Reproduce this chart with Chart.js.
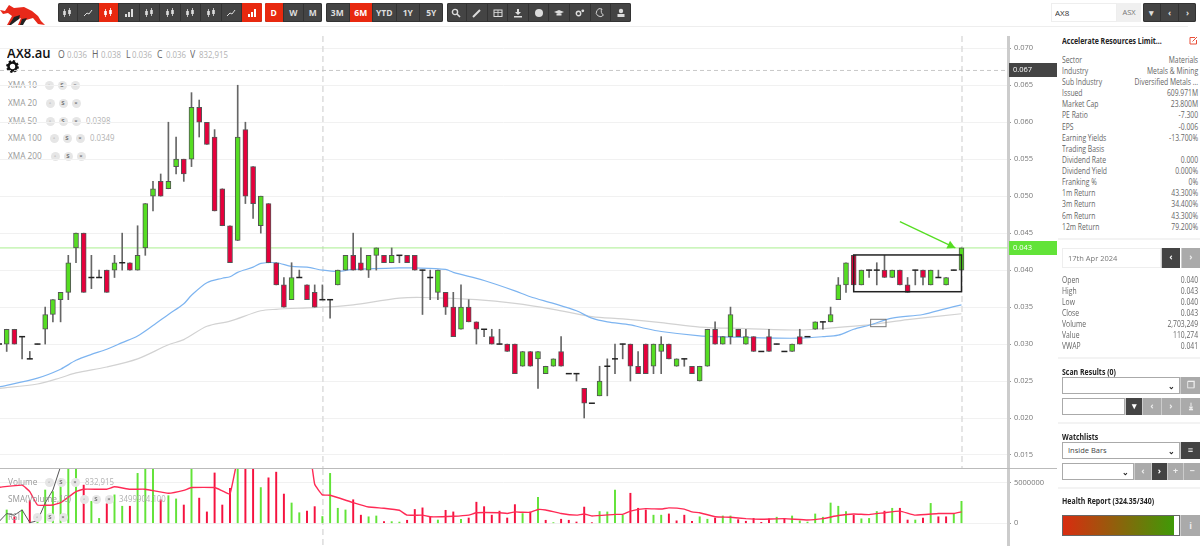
<!DOCTYPE html>
<html>
<head>
<meta charset="utf-8">
<title>AX8.au</title>
<script src="https://cdn.jsdelivr.net/npm/chart.js@4"></script>
<style>
    html, body { margin: 0; padding: 0; width: 1200px; height: 546px; overflow: hidden; background: #fff; font-family: "Open Sans", sans-serif; }
    canvas { position: absolute; left: 0; }
    #priceChart { top: 36px; }
    #volumeChart { top: 469px; }
    .abs { position: absolute; white-space: nowrap; line-height: 1; }
    .squeeze { transform: scaleX(.87); transform-origin: left center; }
    .topline { position: absolute; left: 0; top: 26px; width: 1188px; height: 1px; background: #eee; }
    .group { position: absolute; top: 3px; height: 19px; display: flex; background: #444; border-radius: 2px; box-shadow: inset 0 0 0 1px #333; overflow: hidden; }
    .group div { flex: 1; display: flex; align-items: center; justify-content: center; color: #ddd; font-size: 8.5px; font-weight: 700; border-left: 1px solid #333; }
    .group div:first-child { border-left: 0; }
    .group div.on { background: #e8290f; color: #fff; }
    .group svg { width: 10px; height: 10px; fill: #ddd; stroke: #ddd; }
    .group .on svg { fill: #fff; stroke: #fff; }
    .legend { color: #999; font-size: 9.5px; }
    .value { color: #b2b2b2; font-size: 9px; }
    .dot { position: absolute; width: 9px; height: 9px; border-radius: 50%; background: #e6e6e6; color: #777; font-size: 6px; font-weight: 700; text-align: center; line-height: 9px; }
    .row { position: absolute; left: 1062px; width: 164px; display: flex; justify-content: space-between; font-size: 8.2px; line-height: 11px; color: #666; white-space: nowrap; transform: scaleX(.83); transform-origin: left center; }
    .bold { color: #222; font-weight: 700; font-size: 8.2px; transform: scaleX(.85); transform-origin: left center; }
    .sep { position: absolute; left: 1058px; width: 142px; height: 2px; background: #f3f3f3; }
    .box { position: absolute; box-sizing: border-box; border: 1px solid #aaa; background: #fff; font-size: 7.5px; color: #444; line-height: 15px; padding-left: 5px; }
    .btn { position: absolute; box-sizing: border-box; background: #aaa; color: #eee; font-size: 9px; font-weight: 700; text-align: center; line-height: 16px; border-left: 1px solid #ccc; }
    .btn.dark { background: #444; color: #fff; }
    .arrow { position: absolute; right: 4px; top: 0; color: #222; font-size: 8px; font-weight: 700; }
</style>
</head>
<body>
<div class="topline"></div>
<svg class="abs" style="left:0;top:2px" width="46" height="23" viewBox="0 0 46 23">
    <path d="M0 8 L5 9 L9 3 L14 6 L24 5 L32 9 L38 14 L41 19 L45 23 L38 22 L33 16 L26 18 L21 23 L18 23 L21 16 L16 18 L10 23 L7 23 L12 14 L8 11 L3 12 Z" fill="#e8291a"/>
    <path d="M14 15 L20 13 L19 17 L11 23 L9 23 Z" fill="#222"/>
    <path d="M22 17 L27 16 L23 23 L20 23 Z" fill="#222"/>
</svg>
<div id="toolbars"></div>

<div class="abs squeeze" style="left:7px;top:45px;font-size:15px;font-weight:600;color:#111">AX8.au</div>
<div id="ohlc"></div>
<svg class="abs" style="left:6px;top:60px" width="13" height="13" viewBox="0 0 13 13">
    <circle cx="6.5" cy="6.5" r="4" fill="none" stroke="#111" stroke-width="2.6"/>
    <circle cx="6.5" cy="6.5" r="5.4" fill="none" stroke="#111" stroke-width="2" stroke-dasharray="2.2 2"/>
</svg>
<div id="legends"></div>

<canvas id="priceChart" width="1060" height="432"></canvas>
<canvas id="volumeChart" width="1060" height="77"></canvas>
<div id="legendsTop"></div>

<div class="abs" style="left:0;top:468px;width:1057px;height:1px;background:#bbb"></div>

<input class="abs" value="AX8" style="left:1051px;top:3px;width:66px;height:19px;box-sizing:border-box;border:1px solid #eee;font:8px 'Open Sans';color:#333;padding-left:3px;outline:0">
<div class="abs" style="left:1117px;top:3px;width:24px;height:19px;background:#f0f0f0;color:#777;font-size:7.5px;line-height:19px;text-align:center">ASX</div>
<div class="group" style="left:1143px;width:53px"><div>▾</div><div>‹</div><div>›</div></div>

<div class="abs bold" style="left:1062px;top:37px">Accelerate Resources Limit...</div>
<svg class="abs" style="left:1189px;top:36px" width="9" height="9" viewBox="0 0 9 9" fill="none" stroke="#e8503a"><path d="M6 1.5 H1 V8 H7.5 V4"/><path d="M3.5 5.5 L8 1"/></svg>
<div id="infoRows"></div>
<div class="sep" style="top:238px"></div>

<div class="box" style="left:1062px;top:248px;width:99px;height:20px;line-height:18px;color:#777;border-color:#eee">17th Apr 2024</div>
<div class="btn dark" style="left:1161px;top:248px;width:19px;height:20px;line-height:18px">‹</div>
<div class="btn" style="left:1181px;top:248px;width:19px;height:20px;line-height:18px">›</div>
<div id="dayRows"></div>
<div class="sep" style="top:357px"></div>

<div class="abs bold" style="left:1062px;top:368px">Scan Results (0)</div>
<div class="box" style="left:1062px;top:377px;width:118px;height:17px"><span class="arrow">⌄</span></div>
<div class="btn" style="left:1180px;top:377px;width:20px;height:17px">❐</div>
<div class="box" style="left:1062px;top:398px;width:63px;height:17px"></div>
<div class="btn dark" style="left:1125px;top:398px;width:17px;height:17px">▾</div>
<div class="btn" style="left:1142px;top:398px;width:19px;height:17px">‹</div>
<div class="btn" style="left:1161px;top:398px;width:19px;height:17px">›</div>
<div class="btn" style="left:1180px;top:398px;width:20px;height:17px">⤓</div>
<div class="sep" style="top:422px"></div>

<div class="abs bold" style="left:1062px;top:433px">Watchlists</div>
<div class="box" style="left:1062px;top:442px;width:118px;height:17px">Inside Bars<span class="arrow">⌄</span></div>
<div class="btn dark" style="left:1180px;top:442px;width:20px;height:17px">≡</div>
<div class="box" style="left:1062px;top:463px;width:72px;height:17px"><span class="arrow">⌄</span></div>
<div class="btn" style="left:1134px;top:463px;width:17px;height:17px">‹</div>
<div class="btn dark" style="left:1151px;top:463px;width:16px;height:17px">›</div>
<div class="btn" style="left:1167px;top:463px;width:16px;height:17px">+</div>
<div class="btn" style="left:1183px;top:463px;width:17px;height:17px">−</div>
<div class="sep" style="top:487px"></div>

<div class="abs bold" style="left:1062px;top:497px">Health Report (324.35/340)</div>
<div class="abs" style="left:1062px;top:515px;width:118px;height:21px;box-sizing:border-box;border:1px solid #666;background:#fff">
    <div style="width:111px;height:100%;background:linear-gradient(90deg,#d92c10,#3f9a07)"></div>
</div>
<div class="btn" style="left:1180px;top:515px;width:20px;height:21px;line-height:21px">i</div>

<script>
// Candles, first one sits half off the left edge (candle number -1)
const opens = [
    0.030, 0.030, 0.032, 0.031, 0.028, 0.030, 0.032, 0.034, 0.036, 0.037,
    0.043, 0.045, 0.039, 0.039, 0.040, 0.040, 0.041, 0.041, 0.040, 0.043,
    0.050, 0.052, 0.051, 0.054, 0.055, 0.055, 0.062, 0.060, 0.058, 0.051,
    0.046, 0.044, 0.059, 0.054, 0.046, 0.049, 0.041, 0.038, 0.036, 0.039,
    0.038, 0.037, 0.036, 0.036, 0.038, 0.040, 0.042, 0.041, 0.040, 0.042,
    0.042, 0.041, 0.042, 0.042, 0.042, 0.040, 0.039, 0.037, 0.037, 0.035,
    0.032, 0.035, 0.033, 0.032, 0.031, 0.030, 0.030, 0.030, 0.027, 0.029,
    0.028, 0.026, 0.027, 0.029, 0.026, 0.026, 0.024, 0.022, 0.023, 0.027,
    0.028, 0.030, 0.030, 0.027, 0.030, 0.027, 0.029, 0.030, 0.027, 0.028,
    0.027, 0.025, 0.027, 0.032, 0.030, 0.031, 0.032, 0.030, 0.031, 0.029,
    0.031, 0.030, 0.029, 0.029, 0.031, 0.031, 0.032, 0.033, 0.033, 0.036,
    0.038, 0.042, 0.038, 0.040, 0.040, 0.040, 0.039, 0.040, 0.038, 0.040,
    0.040, 0.038, 0.039, 0.038, 0.040, 0.040
];
const highs = [
    0.030, 0.032, 0.032, 0.031, 0.029, 0.030, 0.035, 0.036, 0.037, 0.042,
    0.045, 0.045, 0.042, 0.040, 0.040, 0.042, 0.045, 0.041, 0.046, 0.049,
    0.052, 0.053, 0.060, 0.058, 0.055, 0.064, 0.063, 0.060, 0.059, 0.051,
    0.046, 0.065, 0.060, 0.054, 0.050, 0.049, 0.041, 0.039, 0.041, 0.040,
    0.038, 0.038, 0.038, 0.036, 0.040, 0.042, 0.045, 0.043, 0.042, 0.043,
    0.042, 0.043, 0.042, 0.042, 0.042, 0.040, 0.040, 0.040, 0.037, 0.037,
    0.038, 0.036, 0.033, 0.032, 0.032, 0.032, 0.030, 0.030, 0.029, 0.029,
    0.029, 0.027, 0.028, 0.031, 0.026, 0.026, 0.024, 0.022, 0.027, 0.028,
    0.030, 0.030, 0.030, 0.029, 0.030, 0.030, 0.031, 0.030, 0.028, 0.028,
    0.027, 0.027, 0.032, 0.033, 0.031, 0.035, 0.032, 0.032, 0.031, 0.029,
    0.032, 0.030, 0.029, 0.030, 0.032, 0.031, 0.033, 0.033, 0.035, 0.039,
    0.041, 0.042, 0.040, 0.040, 0.041, 0.042, 0.040, 0.040, 0.039, 0.040,
    0.040, 0.040, 0.040, 0.039, 0.040, 0.043
];
const lows = [
    0.0295, 0.029, 0.030, 0.028, 0.028, 0.030, 0.030, 0.033, 0.033, 0.036,
    0.041, 0.037, 0.0375, 0.039, 0.037, 0.039, 0.040, 0.040, 0.040, 0.042,
    0.048, 0.050, 0.051, 0.053, 0.052, 0.054, 0.058, 0.057, 0.048, 0.046,
    0.041, 0.044, 0.049, 0.047, 0.045, 0.041, 0.038, 0.035, 0.036, 0.039,
    0.036, 0.035, 0.036, 0.0335, 0.038, 0.040, 0.040, 0.040, 0.039, 0.040,
    0.041, 0.041, 0.041, 0.041, 0.040, 0.034, 0.036, 0.036, 0.034, 0.031,
    0.032, 0.033, 0.030, 0.031, 0.030, 0.030, 0.029, 0.026, 0.027, 0.027,
    0.024, 0.026, 0.027, 0.027, 0.026, 0.025, 0.020, 0.022, 0.023, 0.023,
    0.026, 0.028, 0.025, 0.026, 0.026, 0.026, 0.026, 0.028, 0.027, 0.027,
    0.026, 0.025, 0.027, 0.030, 0.030, 0.030, 0.031, 0.030, 0.029, 0.029,
    0.029, 0.030, 0.029, 0.029, 0.030, 0.031, 0.032, 0.032, 0.033, 0.036,
    0.037, 0.038, 0.038, 0.039, 0.038, 0.039, 0.039, 0.038, 0.037, 0.038,
    0.038, 0.038, 0.039, 0.038, 0.040, 0.040
];
const closes = [
    0.030, 0.032, 0.030, 0.031, 0.028, 0.030, 0.034, 0.036, 0.037, 0.041,
    0.045, 0.037, 0.039, 0.039, 0.037, 0.041, 0.041, 0.040, 0.042, 0.049,
    0.051, 0.050, 0.052, 0.055, 0.053, 0.062, 0.060, 0.057, 0.048, 0.046,
    0.041, 0.058, 0.050, 0.049, 0.050, 0.041, 0.038, 0.035, 0.039, 0.039,
    0.036, 0.035, 0.036, 0.036, 0.040, 0.042, 0.040, 0.040, 0.042, 0.043,
    0.041, 0.042, 0.042, 0.041, 0.040, 0.040, 0.039, 0.040, 0.035, 0.031,
    0.035, 0.033, 0.032, 0.032, 0.030, 0.030, 0.029, 0.026, 0.029, 0.027,
    0.029, 0.027, 0.028, 0.027, 0.026, 0.026, 0.022, 0.022, 0.025, 0.027,
    0.028, 0.030, 0.027, 0.026, 0.026, 0.030, 0.030, 0.028, 0.028, 0.028,
    0.026, 0.027, 0.032, 0.030, 0.031, 0.034, 0.031, 0.031, 0.029, 0.029,
    0.029, 0.030, 0.029, 0.030, 0.030, 0.031, 0.033, 0.033, 0.034, 0.038,
    0.041, 0.038, 0.040, 0.040, 0.040, 0.039, 0.040, 0.038, 0.037, 0.040,
    0.039, 0.040, 0.039, 0.039, 0.040, 0.043
];

// Volume per candle, starts at candle number 0
const volumes = [
    1640000, 800000, 1640000, 2800000, 800000, 4100000, 3900000, 5500000, 8000000, 8000000,
    4700000, 2700000, 600000, 2400000, 3500000, 2100000, 2100000, 6150000, 8000000, 8000000,
    2900000, 3400000, 3000000, 2250000, 8000000, 3100000, 1400000, 6200000, 2250000, 4300000,
    8000000, 8000000, 8000000, 4400000, 5600000, 6300000, 3600000, 2500000, 1300000, 1500000,
    2050000, 832915, 6150000, 1850000, 1640000, 2900000, 1000000, 800000, 900000, 200000,
    200000, 150000, 370000, 1700000, 1900000, 800000, 400000, 1600000, 1400000, 500000,
    650000, 2600000, 2050000, 1000000, 1500000, 650000, 2300000, 1200000, 1400000, 3200000,
    370000, 80000, 500000, 370000, 160000, 2000000, 80000, 1450000, 1400000, 4100000,
    1000000, 3700000, 1850000, 1650000, 1000000, 1000000, 1150000, 300000, 1000000, 250000,
    800000, 500000, 650000, 900000, 900000, 450000, 250000, 600000, 120000, 550000,
    750000, 600000, 900000, 300000, 150000, 1150000, 750000, 2500000, 2100000, 1450000,
    1000000, 550000, 600000, 1450000, 1500000, 1850000, 1850000, 400000, 400000, 650000,
    2450000, 800000, 800000, 1200000, 2703249
];
const volumeSides = [
    'g','r','g','r','g','g','g','g','g','g',
    'r','g','g','r','g','g','r','g','g','g',
    'r','g','g','r','g','r','r','r','r','r',
    'g','r','r','g','r','r','r','g','g','r',
    'r','g','g','g','g','r','r','g','g','r',
    'g','g','r','r','r','r','g','r','r','g',
    'r','r','r','r','r','r','r','g','r','g',
    'r','g','r','r','r','r','r','g','g','g',
    'g','r','r','r','g','g','r','r','r','r',
    'g','g','r','g','g','r','r','r','r','r',
    'g','r','g','g','g','g','g','g','g','g',
    'r','g','g','g','r','g','r','r','g','r',
    'g','r','r','g','g'
];

// Moving averages at these candle numbers
const xma50Index = [-1, 4, 7, 9, 11, 13, 15, 17, 19, 21, 23, 24, 26, 28, 29, 30, 32, 33, 35, 37, 39, 41, 43, 45, 51, 53, 57, 58, 62, 66, 68, 71, 74, 76, 78, 81, 83, 85, 90, 92, 96, 100, 103, 106, 108, 110, 112, 115, 119, 122, 124];
const xma50 = [0.0242, 0.0254, 0.0266, 0.0278, 0.0286, 0.0293, 0.0302, 0.0311, 0.0325, 0.0340, 0.03545, 0.0366, 0.0383, 0.0389, 0.0391, 0.0397, 0.0404, 0.0409, 0.0410, 0.0405, 0.0404, 0.0400, 0.0398, 0.0401, 0.0403, 0.0403, 0.0401, 0.0397, 0.0386, 0.0372, 0.0364, 0.0355, 0.0345, 0.0335, 0.0330, 0.0326, 0.0321, 0.0317, 0.0311, 0.0310, 0.0309, 0.0308, 0.0308, 0.0310, 0.0312, 0.0320, 0.03255, 0.0335, 0.0340, 0.0348, 0.0353];
const xma100Index = [-1, 4, 7, 9, 13, 17, 21, 23, 26, 29, 33, 35, 39, 43, 45, 51, 54, 61, 66, 71, 76, 80, 85, 90, 96, 103, 106, 112, 117, 124];
const xma100 = [0.0240, 0.0246, 0.02545, 0.0261, 0.0269, 0.0280, 0.0299, 0.0306, 0.0324, 0.0331, 0.0345, 0.0347, 0.0349, 0.0351, 0.0353, 0.0362, 0.0363, 0.0360, 0.0355, 0.0347, 0.0337, 0.0334, 0.0329, 0.0323, 0.0321, 0.0319, 0.0321, 0.0326, 0.0333, 0.0341];

// Volume average, goes off the panel in the middle of the tall bars
const smaIndex = [-1, 2, 3, 4, 6, 7, 9, 10, 13, 14, 16, 18, 21, 23, 24, 27, 28, 29, 30, 31, 39, 40, 41, 42, 45, 47, 49, 51, 52, 54, 55, 58, 60, 61, 64, 65, 66, 67, 68, 69, 70, 72, 74, 75, 76, 79, 80, 81, 83, 85, 86, 88, 89, 90, 92, 94, 96, 98, 101, 104, 106, 108, 110, 112, 114, 116, 118, 121, 123, 124];
const smaVolume = [4430000, 4700000, 3900000, 2250000, 2250000, 2540000, 3900000, 4200000, 4200000, 4500000, 4200000, 4200000, 3700000, 4050000, 4400000, 4400000, 4000000, 3600000, 8000000, 10000000, 10000000, 4800000, 3499904, 3450000, 2540000, 2000000, 1850000, 1600000, 1000000, 1000000, 800000, 860000, 1000000, 1300000, 1300000, 1200000, 1400000, 1350000, 1350000, 1700000, 1640000, 1200000, 1000000, 1150000, 900000, 1100000, 1100000, 1500000, 1800000, 1750000, 1900000, 1750000, 1400000, 1300000, 800000, 740000, 570000, 500000, 570000, 400000, 570000, 950000, 1150000, 1070000, 1300000, 1500000, 1000000, 1200000, 1200000, 1400000];

// Third indicator line, only shows at the far left of the lower panel
const rsiIndex = [-1, 0, 1, 2, 3, 4, 5, 6, 7];
const rsiLine = [200000, 1200000, 1000000, 1640000, 80000, 300000, 2500000, 4100000, 7000000];

// Axis ticks
const priceTicks = [0.015, 0.020, 0.025, 0.030, 0.035, 0.040, 0.045, 0.050, 0.055, 0.060, 0.065, 0.070];
const volumeTicks = [0, 5000000];

// Lines the user drew on the chart: candle numbers and prices
const lastClose = 0.043;
const crossPrice = 0.067;
const crossCandle = 41;
const lastCandle = 124;
const bigBox = [110, 0.04205, 124, 0.03708];
const smallBox = [112.2, 0.03335, 114.2, 0.03235];
const arrowLine = [116, 0.04655, 123.2, 0.0430];

const GREEN = '#55dd22';
const RED = '#e6003c';
const xMin = -0.87;
const xMax = 130.04;

const candleNumbers = opens.map((_, i) => i - 1);
const pair = (xs, ys) => xs.map((x, i) => ({ x: x, y: ys[i] }));

const xScale = {
    type: 'linear', min: xMin, max: xMax, offset: false, display: false,
    grid: { display: false }
};

function yScale(min, max, ticks, format) {
    return {
        position: 'right',
        min: min,
        max: max,
        afterFit: s => {
            s.width = 52;
            // no room needed for half a label at the panel edges
            s.paddingTop = 0;
            s.paddingBottom = 0;
        },
        afterBuildTicks: s => { s.ticks = ticks.map(v => ({ value: v })); },
        border: { color: '#ccc', width: 3 },
        grid: { color: '#f1f1f1', tickColor: '#999', tickLength: 3 },
        ticks: { color: '#777', padding: 3, font: { family: 'Open Sans', size: 7.5 }, callback: format }
    };
}

// Dashed crosshairs behind both panels
const crosshairPlugin = {
    id: 'crosshairs',
    beforeDatasetsDraw(chart) {
        const { ctx, chartArea, scales } = chart;
        ctx.save();
        ctx.strokeStyle = '#dfdfdf';
        ctx.lineWidth = 1.6;
        ctx.setLineDash([6, 4]);
        [crossCandle, lastCandle].forEach((c, i) => {
            if (i === 1 && chart.canvas.id !== 'priceChart') return;
            const x = scales.x.getPixelForValue(c) + 0.5;
            ctx.beginPath();
            ctx.moveTo(x, chartArea.top);
            ctx.lineTo(x, chartArea.bottom);
            ctx.stroke();
        });
        ctx.restore();
    }
};

// Horizontal price lines, the two price tags and the hand drawn boxes
const drawingsPlugin = {
    id: 'drawings',
    beforeDatasetsDraw(chart) {
        const { ctx, chartArea, scales } = chart;
        ctx.save();
        ctx.strokeStyle = '#c8c8c8';
        ctx.setLineDash([4, 3]);
        let y = scales.y.getPixelForValue(crossPrice);
        ctx.beginPath();
        ctx.moveTo(chartArea.left, y);
        ctx.lineTo(chartArea.right, y);
        ctx.stroke();
        ctx.setLineDash([]);
        ctx.strokeStyle = '#a9ef8f';
        y = scales.y.getPixelForValue(lastClose);
        ctx.beginPath();
        ctx.moveTo(chartArea.left, y);
        ctx.lineTo(chartArea.right, y);
        ctx.stroke();
        ctx.restore();
    },
    afterDraw(chart) {
        const { ctx, scales } = chart;
        const sx = v => scales.x.getPixelForValue(v);
        const sy = v => scales.y.getPixelForValue(v);
        ctx.save();

        ctx.strokeStyle = '#222';
        ctx.lineWidth = 1.5;
        ctx.strokeRect(sx(bigBox[0]), sy(bigBox[1]), sx(bigBox[2]) - sx(bigBox[0]), sy(bigBox[3]) - sy(bigBox[1]));
        ctx.strokeStyle = '#777';
        ctx.lineWidth = 1;
        ctx.strokeRect(sx(smallBox[0]), sy(smallBox[1]), sx(smallBox[2]) - sx(smallBox[0]), sy(smallBox[3]) - sy(smallBox[1]));

        // Arrow
        const x1 = sx(arrowLine[0]), y1 = sy(arrowLine[1]), x2 = sx(arrowLine[2]), y2 = sy(arrowLine[3]);
        const a = Math.atan2(y2 - y1, x2 - x1);
        ctx.strokeStyle = GREEN;
        ctx.fillStyle = GREEN;
        ctx.lineWidth = 1.3;
        ctx.beginPath();
        ctx.moveTo(x1, y1);
        ctx.lineTo(x2, y2);
        ctx.stroke();
        ctx.beginPath();
        ctx.moveTo(x2, y2);
        ctx.lineTo(x2 - 9 * Math.cos(a - 0.5), y2 - 9 * Math.sin(a - 0.5));
        ctx.lineTo(x2 - 9 * Math.cos(a + 0.5), y2 - 9 * Math.sin(a + 0.5));
        ctx.fill();

        // Price tags on the axis
        ctx.font = '7.5px "Open Sans"';
        ctx.textBaseline = 'middle';
        [[crossPrice, '#444'], [lastClose, '#62e338']].forEach(t => {
            const y = Math.round(sy(t[0]));
            ctx.fillStyle = t[1];
            ctx.fillRect(1009, y - 7, 48, 14);
            ctx.fillStyle = '#fff';
            ctx.fillText(t[0].toFixed(3), 1013, y);
        });
        ctx.restore();
    }
};

const baseOptions = {
    responsive: false,
    animation: false,
    events: [],
    layout: { padding: 0, autoPadding: false },
    plugins: { legend: { display: false }, tooltip: { enabled: false } }
};

// Price panel
const priceChart = new Chart(document.getElementById('priceChart'), {
    data: {
        datasets: [
            {
                type: 'line', order: 6, data: pair(xma100Index, xma100),
                borderColor: '#d2d2d2', borderWidth: 1.2, pointRadius: 0, tension: 0.3
            },
            {
                type: 'line', order: 5, data: pair(xma50Index, xma50),
                borderColor: '#7db4f0', borderWidth: 1.2, pointRadius: 0, tension: 0.3
            },
            {
                type: 'bar', order: 4, grouped: false, barThickness: 1,
                data: candleNumbers.map((x, i) => ({ x: x, y: [lows[i], highs[i]] })),
                backgroundColor: '#666'
            },
            {
                type: 'bar', order: 3, grouped: false, barThickness: 5,
                data: candleNumbers.map((x, i) => ({ x: x, y: [Math.min(opens[i], closes[i]), Math.max(opens[i], closes[i])] })),
                backgroundColor: opens.map((o, i) => closes[i] >= o ? GREEN : RED),
                borderColor: '#555',
                borderWidth: 1,
                borderSkipped: false
            },
            {
                // Open equals close: the body collapses to a short dash
                type: 'line', order: 2, showLine: false,
                data: candleNumbers.map((x, i) => ({ x: x, y: opens[i] === closes[i] ? closes[i] : null })),
                pointStyle: 'line', pointRadius: 3, pointBorderColor: '#222', pointBorderWidth: 1.5
            }
        ]
    },
    options: {
        ...baseOptions,
        scales: {
            x: xScale,
            y: yScale(0.01324, 0.07166, priceTicks, v => v.toFixed(3))
        }
    },
    plugins: [crosshairPlugin, drawingsPlugin]
});

// Volume panel
new Chart(document.getElementById('volumeChart'), {
    data: {
        datasets: [
            {
                type: 'line', order: 1, data: pair(smaIndex, smaVolume),
                borderColor: '#ff2a55', borderWidth: 1.4, pointRadius: 0, tension: 0.1
            },
            {
                type: 'line', order: 2, data: pair(rsiIndex, rsiLine),
                borderColor: '#555', borderWidth: 1, pointRadius: 0
            },
            {
                type: 'bar', order: 3, grouped: false, barThickness: 1.3,
                data: volumes.map((v, i) => ({ x: i, y: v })),
                backgroundColor: volumeSides.map(s => s === 'g' ? '#62e338' : '#f5123f')
            }
        ]
    },
    options: {
        ...baseOptions,
        scales: {
            x: xScale,
            y: yScale(-2800000, 6687000, volumeTicks, v => String(v))
        }
    },
    plugins: [crosshairPlugin]
});

// ---- Everything below is the page around the chart ----

function place(host, html, x, y, cls, style) {
    const el = document.createElement('div');
    el.className = 'abs ' + (cls || '');
    el.style.left = x + 'px';
    el.style.top = y + 'px';
    if (style) el.style.cssText += style;
    el.innerHTML = html;
    host.appendChild(el);
    return el;
}

// Toolbars
const toolbars = document.getElementById('toolbars');
const candleIcon = '<svg viewBox="0 0 10 10"><path d="M2.5 1V9M7.5 0V8" stroke-width=".8"/><rect x="1.2" y="3" width="2.6" height="4" stroke="none"/><rect x="6.2" y="2" width="2.6" height="4" stroke="none"/></svg>';
const lineIcon = '<svg viewBox="0 0 10 10"><path d="M1 8L4 5L6 6L9 2" fill="none" stroke-width="1"/></svg>';
const barsIcon = '<svg viewBox="0 0 10 10"><rect x="1" y="6" width="2" height="3" stroke="none"/><rect x="4" y="4" width="2" height="5" stroke="none"/><rect x="7" y="1" width="2" height="8" stroke="none"/></svg>';
const toolIcons = [
    '<svg viewBox="0 0 10 10"><circle cx="4" cy="4" r="2.6" fill="none" stroke-width="1.4"/><path d="M6 6L9 9" stroke-width="1.6"/></svg>',
    '<svg viewBox="0 0 10 10"><path d="M1 9L8 2" stroke-width="2"/></svg>',
    '<svg viewBox="0 0 10 10"><rect x="1" y="2" width="8" height="6.5" fill="none" stroke-width="1"/><path d="M1 4.5H9M5 2V8.5" stroke-width=".8"/></svg>',
    '<svg viewBox="0 0 10 10"><path d="M4 1H6V4H8L5 7L2 4H4Z" stroke="none"/><rect x="1" y="8" width="8" height="1.5" stroke="none"/></svg>',
    '<svg viewBox="0 0 10 10"><circle cx="5" cy="5" r="4" stroke="none"/></svg>',
    '<svg viewBox="0 0 10 10"><path d="M0 4L5 2L10 4L5 6Z" stroke="none"/><path d="M2.5 5.5V7.5H7.5V5.5" stroke="none"/></svg>',
    '<svg viewBox="0 0 10 10"><circle cx="3.5" cy="5.5" r="2.2" fill="none" stroke-width="1.4"/><circle cx="7.8" cy="2.8" r="1.4" stroke="none"/></svg>',
    '<svg viewBox="0 0 10 10"><path d="M7 1A4 4 0 1 0 8.5 7A4 4 0 0 1 7 1Z" fill="none" stroke-width=".9"/></svg>',
    '<svg viewBox="0 0 10 10"><circle cx="5" cy="3" r="2.2" stroke="none"/><rect x="1.5" y="6" width="7" height="3" stroke="none"/></svg>'
];
const chartTypeIcons = [candleIcon, lineIcon, candleIcon, barsIcon, candleIcon, candleIcon, candleIcon, candleIcon, lineIcon, barsIcon];
const groups = [
    { left: 57.5, width: 204, items: chartTypeIcons, on: [2, 9] },
    { left: 264.5, width: 57.5, items: ['D', 'W', 'M'], on: [0] },
    { left: 326, width: 116.5, items: ['3M', '6M', 'YTD', '1Y', '5Y'], on: [1] },
    { left: 446.6, width: 184, items: toolIcons, on: [] }
];
groups.forEach(g => {
    const el = document.createElement('div');
    el.className = 'group';
    el.style.left = g.left + 'px';
    el.style.width = g.width + 'px';
    el.innerHTML = g.items.map((t, i) => `<div class="${g.on.includes(i) ? 'on' : ''}">${t}</div>`).join('');
    toolbars.appendChild(el);
});

// OHLC header
const ohlc = document.getElementById('ohlc');
[['O', 57.5, '0.036', 66.8], ['H', 92, '0.038', 100.5], ['L', 125.7, '0.036', 132], ['C', 157, '0.036', 165.5], ['V', 190.4, '832,915', 199]].forEach(h => {
    place(ohlc, h[0], h[1], 49, 'squeeze', 'font-size:10px;color:#666');
    place(ohlc, h[2], h[3], 49.5, 'value squeeze');
});

// Indicator legends, each with its three round buttons
function legendRow(host, label, y, dots, value, valueX) {
    place(host, label, 8, y - 5, 'legend squeeze');
    ['◦', 'S', '×'].forEach((g, i) => {
        const d = document.createElement('div');
        d.className = 'dot';
        d.style.left = dots[i] - 4.5 + 'px';
        d.style.top = y - 4.5 + 'px';
        d.textContent = g;
        host.appendChild(d);
    });
    if (value) place(host, value, valueX, y - 5, 'value squeeze');
}
const legends = document.getElementById('legends');
legendRow(legends, 'XMA 10', 85, [49, 62, 75]);
legendRow(legends, 'XMA 20', 103, [50, 63, 76]);
legendRow(legends, 'XMA 50', 121, [50, 63, 76], '0.0398', 86);
legendRow(legends, 'XMA 100', 138, [54, 67, 80], '0.0349', 90);
legendRow(legends, 'XMA 200', 156, [55, 68, 81]);
const legendsTop = document.getElementById('legendsTop');
legendRow(legendsTop, 'Volume', 482, [49, 61, 75], '832,915', 85);
legendRow(legendsTop, 'SMA(Volume,10)', 499, [84, 96, 109], '3499904.100', 119);
legendRow(legendsTop, 'RSI', 517, [37, 50, 63]);

// Right hand panels
function rows(hostId, list, top) {
    const host = document.getElementById(hostId);
    list.forEach((r, i) => {
        const el = document.createElement('div');
        el.className = 'row';
        el.style.top = top + i * 11.13 - 5.5 + 'px';
        el.innerHTML = `<span>${r[0]}</span><span>${r[1]}</span>`;
        host.appendChild(el);
    });
}
rows('infoRows', [
    ['Sector', 'Materials'], ['Industry', 'Metals &amp; Mining'], ['Sub Industry', 'Diversified Metals ...'],
    ['Issued', '609.971M'], ['Market Cap', '23.800M'], ['PE Ratio', '-7.300'], ['EPS', '-0.006'],
    ['Earning Yields', '-13.700%'], ['Trading Basis', ''], ['Dividend Rate', '0.000'], ['Dividend Yield', '0.000%'],
    ['Franking %', '0%'], ['1m Return', '43.300%'], ['3m Return', '34.400%'], ['6m Return', '43.300%'], ['12m Return', '79.200%']
], 59.3);
rows('dayRows', [
    ['Open', '0.040'], ['High', '0.043'], ['Low', '0.040'], ['Close', '0.043'],
    ['Volume', '2,703,249'], ['Value', '110,274'], ['VWAP', '0.041']
], 279);
</script>
</body>
</html>
